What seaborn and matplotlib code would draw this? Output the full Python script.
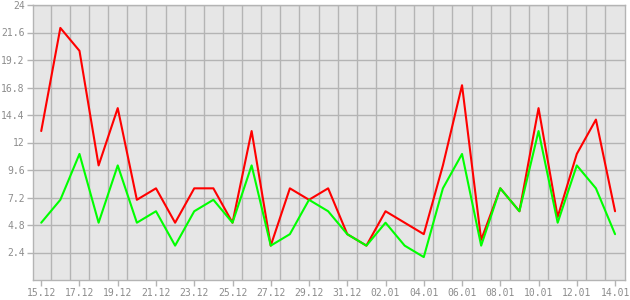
import numpy as np
import pandas as pd
import matplotlib
matplotlib.use("Agg")
import matplotlib.pyplot as plt
import seaborn as sns

dates = ["15.12", "16.12", "17.12", "18.12", "19.12", "20.12", "21.12", "22.12",
         "23.12", "24.12", "25.12", "26.12", "27.12", "28.12", "29.12", "30.12",
         "31.12", "01.01", "02.01", "03.01", "04.01", "05.01", "06.01", "07.01",
         "08.01", "09.01", "10.01", "11.01", "12.01", "13.01", "14.01"]
red_values = [13, 22, 20, 10, 15, 7, 8, 5, 8, 8, 5, 13, 3, 8, 7, 8,
              4, 3, 6, 5, 4, 10, 17, 3.5, 8, 6, 15, 5.5, 11, 14, 6]
green_values = [5, 7, 11, 5, 10, 5, 6, 3, 6, 7, 5, 10, 3, 4, 7, 6,
                4, 3, 5, 3, 2, 8, 11, 3, 8, 6, 13, 5, 10, 8, 4]
y_ticks = [2.4, 4.8, 7.2, 9.6, 12, 14.4, 16.8, 19.2, 21.6, 24]
y_labels = ["2.4", "4.8", "7.2", "9.6", "12", "14.4", "16.8", "19.2", "21.6", "24"]

sns.set_style("white")
plt.rcParams['font.family'] = ['DejaVu Sans Mono']

idx = np.arange(len(dates))
df_red = pd.DataFrame({"idx": idx, "value": red_values})
df_green = pd.DataFrame({"idx": idx, "value": green_values})

fig = plt.figure(figsize=(6.3, 3.0), dpi=100)
ax = fig.add_axes([33 / 630, 1 - 280 / 300, (625 - 33) / 630, (280 - 5) / 300])
ax.set_facecolor("#e6e6e6")

sns.lineplot(data=df_red, x="idx", y="value", color="#ff0000",
             linewidth=1.5, legend=False, ax=ax, zorder=3)
sns.lineplot(data=df_green, x="idx", y="value", color="#00ff00",
             linewidth=1.5, legend=False, ax=ax, zorder=4)

grid_c = "#b4b4b4"
for v in np.arange(0.5, len(dates) - 0.5, 1.0):
    ax.axvline(v, color=grid_c, linewidth=1.0, zorder=1)
for v in y_ticks:
    ax.axhline(v, color=grid_c, linewidth=1.0, zorder=1)

ax.set_xlim(-0.43, 30.52)
ax.set_ylim(0, 24)
ax.set_xticks(idx[::2])
ax.set_xticklabels(dates[::2])
ax.set_yticks(y_ticks)
ax.set_yticklabels(y_labels)
ax.set_xlabel("")
ax.set_ylabel("")
ax.tick_params(axis="both", colors=grid_c, labelcolor="#8c8c8c", labelsize=7,
               length=4, width=1.0, pad=2, direction="out", bottom=True, left=True)
for s in ax.spines.values():
    s.set_color(grid_c)
    s.set_linewidth(1.0)

fig.savefig("out.png", dpi=100, facecolor="white")
